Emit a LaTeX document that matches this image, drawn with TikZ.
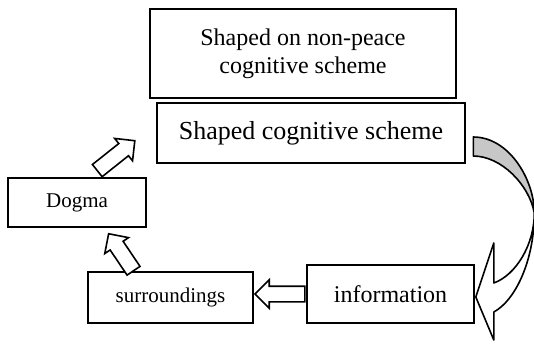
\documentclass[tikz,border=0pt]{standalone}
\usepackage{fontspec}
\setmainfont{Liberation Serif}
\usetikzlibrary{shapes.arrows,calc}

\tikzset{
  box/.style={draw,line width=0.8pt,inner sep=0pt,align=center},
  hollow/.style={single arrow,draw,fill=white,line width=0.8pt,inner xsep=0pt,inner ysep=3.5pt,
    single arrow head extend=3.25pt,sloped,allow upside down,pos=1,anchor=tip},
  bandback/.style={draw,fill=black!22,line width=0.8pt,line join=round},
  bandfront/.style={draw,fill=white,line width=0.8pt,line join=round}
}

\begin{document}
\begin{tikzpicture}[x=0.5pt,y=-0.5pt]
  \useasboundingbox (0,0) rectangle (534,345);
  \node[box,minimum width=153pt,minimum height=44.5pt,font=\fontsize{12}{14}\selectfont]
    (nonpeace) at (303,53.5) {Shaped on non-peace\\cognitive scheme};
  \node[box,line width=1.3pt,minimum width=154pt,minimum height=30pt,font=\fontsize{13}{15}\selectfont]
    (shaped) at (311,133) {Shaped cognitive scheme};
  \node[box,minimum width=69pt,minimum height=24.5pt,font=\fontsize{10.5}{12}\selectfont]
    (dogma) at (77,202.5) {Dogma};
  \node[box,minimum width=82.5pt,minimum height=25.5pt,font=\fontsize{10.5}{12}\selectfont]
    (surr) at (170.5,297.5) {surroundings};
  \node[box,minimum width=83.5pt,minimum height=29pt,font=\fontsize{12}{14}\selectfont]
    (info) at (390.5,294) {information};

  \path (info.west) -- (info.west -| surr.east) node[hollow,minimum height=25pt] {};
  \path ($(surr.north west)!0.28!(surr.north east)$) -- ($(dogma.south)+(31,5)$)
    node[hollow,minimum height=22.3pt] {};
  \path ($(dogma.north west)!0.586!(dogma.north east)$) -- ($(shaped.west)+(-20,7)$)
    node[hollow,minimum height=24pt] {};

  \coordinate (c1) at ($(shaped.east)+(7,4)$);
  \coordinate (c2) at ($(shaped.east)+(7,23)$);
  \coordinate (tw) at ($(shaped.east)+(68,80)$);
  \coordinate (j1) at ($(info.east)+(19,-11)$);
  \coordinate (j2) at ($(info.east)+(19,18)$);
  \coordinate (b1) at ($(info.east)+(19,-51)$);
  \coordinate (b2) at ($(info.east)+(19,46)$);
  \coordinate (tp) at ($(info.east)+(1,3)$);
  \draw[bandback] (c1) .. controls +(36,0) and +(0,-33) .. (tw)
    .. controls +(-5,-28) and +(28,0) .. (c2) -- cycle;
  \draw[bandfront] (tw) .. controls +(0,47) and +(22,-12) .. (j2) -- (b2) -- (tp) -- (b1)
    -- (j1) .. controls +(22,-8) and +(0,32) .. (tw) -- cycle;
\end{tikzpicture}
\end{document}
